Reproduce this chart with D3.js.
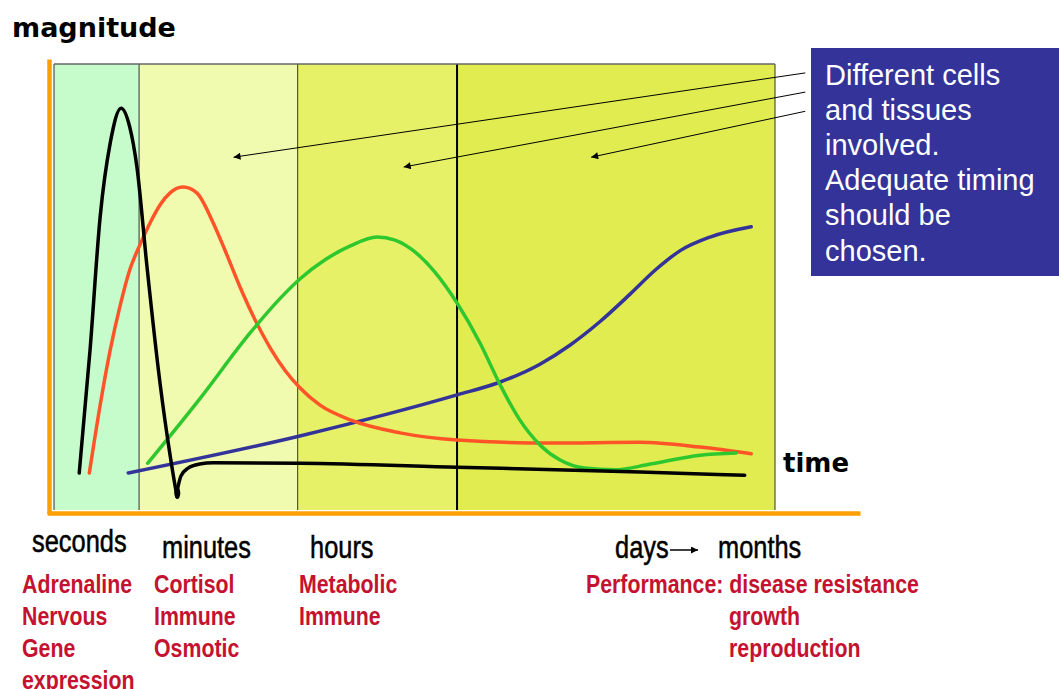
<!DOCTYPE html>
<html>
<head>
<meta charset="utf-8">
<script src="https://cdn.jsdelivr.net/npm/d3@7"></script>
<style>
  body { margin: 0; background: #fff; }
  svg { display: block; }
</style>
</head>
<body>
<div id="chart"></div>
<script>
// time runs 0..100 across the shaded phases, magnitude 0..100
const phaseEdges = [0, 11.8, 33.8, 55.9, 100];
const phaseColors = ['#c6fccb', '#f1fbb0', '#e6f168', '#e1ec51'];

const blackRise = [[3.5, 8.3], [5.0, 35.9], [6.4, 65.7], [7.8, 82.3], [9.3, 90.1], [10.5, 85.9],
  [11.5, 76.9], [12.9, 54.5], [14.7, 28.5], [16.1, 12.3], [16.9, 4.5], [17.1, 2.9]];
const blackTail = [[17.1, 4.5], [17.6, 7.6], [18.6, 9.4], [20.2, 10.3], [22.1, 10.6], [34.1, 10.5],
  [55.9, 9.6], [81.3, 8.5], [95.8, 7.8]];
const orangeCurve = [[4.9, 8.3], [6.4, 23.5], [7.8, 35.9], [9.2, 46.0], [10.5, 53.8], [11.9, 59.4],
  [13.3, 64.3], [14.7, 68.4], [16.1, 71.1], [17.9, 72.4], [19.8, 71.1], [22.1, 64.3], [23.7, 58.3],
  [25.8, 50.0], [27.9, 42.6], [30.0, 36.3], [32.0, 31.4], [34.1, 27.4], [36.9, 23.5], [41.1, 20.2],
  [48.0, 17.3], [55.9, 15.7], [68.8, 15.0], [81.3, 15.2], [89.6, 14.1], [96.7, 12.6]];
const greenCurve = [[13.0, 10.5], [20.3, 25.1], [27.2, 39.7], [31.4, 47.5], [34.1, 51.8], [37.6, 56.1],
  [41.1, 59.2], [44.8, 61.2], [47.3, 60.5], [50.1, 57.8], [52.8, 53.4], [55.9, 46.4], [59.1, 37.4],
  [61.9, 28.0], [64.6, 20.2], [67.4, 14.6], [70.2, 11.2], [73.6, 9.4], [77.8, 9.0], [82.7, 10.3],
  [89.6, 12.3], [94.6, 12.8]];
const blueCurve = [[10.3, 8.3], [34.1, 16.6], [55.9, 25.8], [61.9, 28.7], [67.4, 32.7], [71.6, 37.0],
  [75.7, 42.2], [79.9, 48.4], [83.4, 53.8], [86.8, 58.1], [91.0, 61.2], [96.7, 63.5]];

// callout arrows: [fromT, fromM, toT, toM]
const calloutArrows = [[104.2, 98.0, 24.9, 79.1], [104.2, 93.7, 48.5, 76.9], [104.2, 89.4, 74.5, 79.1]];
const calloutLines = ['Different cells', 'and tissues', 'involved.', 'Adequate timing', 'should be', 'chosen.'];

const timeLabels = [
  { text: 'seconds', x: 32, y: 552 },
  { text: 'minutes', x: 162, y: 558 },
  { text: 'hours', x: 310, y: 558 },
  { text: 'days', x: 615, y: 558 },
  { text: 'months', x: 718, y: 558 }
];
const responseLabels = [
  { x: 22, lines: ['Adrenaline', 'Nervous', 'Gene', 'expression'] },
  { x: 154, lines: ['Cortisol', 'Immune', 'Osmotic'] },
  { x: 299, lines: ['Metabolic', 'Immune'] },
  { x: 586, lines: ['Performance: disease resistance'] },
  { x: 729, lines: ['', 'growth', 'reproduction'] }
];

const width = 1059, height = 689;
const svg = d3.select('#chart').append('svg')
  .attr('width', width).attr('height', height);

const x = d3.scaleLinear().domain([0, 100]).range([54, 775]);
const y = d3.scaleLinear().domain([0, 100]).range([510, 64]);

const defs = svg.append('defs');
defs.append('marker')
  .attr('id', 'head')
  .attr('viewBox', '0 0 10 10')
  .attr('refX', 10).attr('refY', 5)
  .attr('markerWidth', 10).attr('markerHeight', 7)
  .attr('markerUnits', 'userSpaceOnUse')
  .attr('orient', 'auto')
  .append('path').attr('d', 'M0,0L10,5L0,10z').attr('fill', '#000');

// phase panels
const phases = d3.range(phaseColors.length).map(i => ({ a: phaseEdges[i], b: phaseEdges[i + 1], c: phaseColors[i] }));
svg.append('g').selectAll('rect')
  .data(phases)
  .join('rect')
  .attr('x', d => x(d.a))
  .attr('width', d => x(d.b) - x(d.a))
  .attr('y', y(100))
  .attr('height', y(0) - y(100))
  .attr('fill', d => d.c);

svg.append('g').selectAll('line')
  .data(phaseEdges)
  .join('line')
  .attr('x1', d => x(d)).attr('x2', d => x(d))
  .attr('y1', y(100)).attr('y2', y(0))
  .attr('stroke', (d, i) => i === 3 ? '#000' : '#333')
  .attr('stroke-width', (d, i) => i === 3 ? 2 : 1);

svg.append('line')
  .attr('x1', x(0)).attr('x2', x(100))
  .attr('y1', y(100)).attr('y2', y(100))
  .attr('stroke', '#666').attr('stroke-width', 1.5);

// orange axes, no ticks
const axisX = d3.scaleLinear().range([47, 860]);
const axisY = d3.scaleLinear().range([513, 59]);
svg.append('g').attr('class', 'axis')
  .attr('transform', `translate(0,${513})`)
  .call(d3.axisBottom(axisX).tickValues([]).tickSizeOuter(0));
svg.append('g').attr('class', 'axis')
  .attr('transform', `translate(${49},0)`)
  .call(d3.axisLeft(axisY).tickValues([]).tickSizeOuter(0));
svg.selectAll('.axis .domain').attr('stroke', '#ff9f00').attr('stroke-width', 4.5);

// callout arrows
svg.append('g').selectAll('line')
  .data(calloutArrows)
  .join('line')
  .attr('x1', d => x(d[0])).attr('y1', d => y(d[1]))
  .attr('x2', d => x(d[2])).attr('y2', d => y(d[3]))
  .attr('stroke', '#000').attr('stroke-width', 1)
  .attr('marker-end', 'url(#head)');

// response curves
const line = d3.line()
  .x(d => x(d[0])).y(d => y(d[1]))
  .curve(d3.curveMonotoneX);

const curves = [
  { pts: blueCurve, color: '#333399' },
  { pts: orangeCurve, color: '#ff5328' },
  { pts: greenCurve, color: '#2ec82e' },
  { pts: blackRise, color: '#000' },
  { pts: blackTail, color: '#000' }
];
svg.append('g').selectAll('path')
  .data(curves)
  .join('path')
  .attr('d', d => line(d.pts))
  .attr('fill', 'none')
  .attr('stroke', d => d.color)
  .attr('stroke-width', 3.5)
  .attr('stroke-linecap', 'round');

// the drop where the black response bottoms out
svg.append('ellipse')
  .attr('cx', x(blackTail[0][0])).attr('cy', y(blackTail[0][1]) + 3)
  .attr('rx', 3).attr('ry', 6)
  .attr('fill', '#000');

// titles
svg.append('text')
  .attr('x', 12).attr('y', 37)
  .attr('font-family', 'DejaVu Sans').attr('font-weight', 'bold').attr('font-size', 27)
  .attr('fill', '#000')
  .text('magnitude');
svg.append('text')
  .attr('x', 783).attr('y', 472)
  .attr('font-family', 'DejaVu Sans').attr('font-weight', 'bold').attr('font-size', 26)
  .attr('fill', '#000')
  .text('time');

// callout box
svg.append('rect')
  .attr('x', 811).attr('y', 48)
  .attr('width', width - 811).attr('height', 228)
  .attr('fill', '#333399');
svg.append('g').selectAll('text')
  .data(calloutLines)
  .join('text')
  .attr('x', 825).attr('y', (d, i) => 85 + i * 35.1)
  .attr('font-family', 'Liberation Sans, Arial, sans-serif').attr('font-size', 29)
  .attr('fill', '#fff')
  .text(d => d);

// narrow labels below the axis
const narrow = 0.82;
svg.append('g').selectAll('text')
  .data(timeLabels)
  .join('text')
  .attr('transform', d => `translate(${d.x},${d.y}) scale(${narrow},1)`)
  .attr('font-family', 'Liberation Sans, Arial, sans-serif').attr('font-size', 31)
  .attr('fill', '#000')
  .attr('stroke', '#000').attr('stroke-width', 0.5)
  .text(d => d.text);

svg.append('line')
  .attr('x1', 670).attr('x2', 698)
  .attr('y1', 550).attr('y2', 550)
  .attr('stroke', '#000').attr('stroke-width', 1.5)
  .attr('marker-end', 'url(#head)');

const resp = svg.append('g').selectAll('g')
  .data(responseLabels)
  .join('g');
resp.selectAll('text')
  .data(d => d.lines.map((t, i) => ({ t, i, x: d.x })))
  .join('text')
  .attr('transform', d => `translate(${d.x},${593 + d.i * 32}) scale(${narrow},1)`)
  .attr('font-family', 'Liberation Sans, Arial, sans-serif').attr('font-weight', 'bold').attr('font-size', 26)
  .attr('fill', '#c4122f')
  .text(d => d.t);
</script>
</body>
</html>
